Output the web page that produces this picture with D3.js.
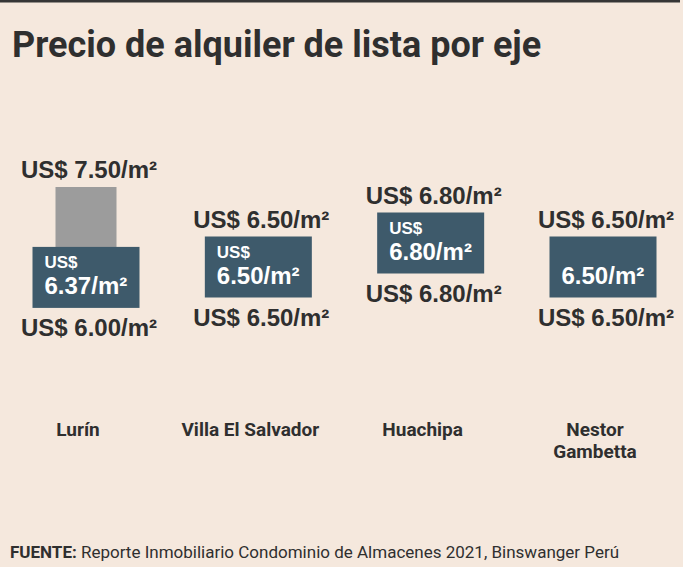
<!DOCTYPE html>
<html>
<head>
<meta charset="utf-8">
<script src="https://cdn.jsdelivr.net/npm/d3@7"></script>
<style>
  html, body { margin:0; padding:0; background:#f5e8dd; }
  svg { display:block; }
</style>
</head>
<body>
<svg id="chart"></svg>
<script>
const categories = ["Lurín", "Villa El Salvador", "Huachipa", "Nestor\nGambetta"];
const minValues = [6.00, 6.50, 6.80, 6.50];
const maxValues = [7.50, 6.50, 6.80, 6.50];
const avgValues = [6.37, 6.50, 6.80, 6.50];
const avgPrefix = ["US$", "US$", "US$", ""];

const title = "Precio de alquiler de lista por eje";
const sourceLabel = "FUENTE:";
const sourceText = " Reporte Inmobiliario Condominio de Almacenes 2021, Binswanger Perú";

const W = 683;
const H = 567;

const COLORS = {
  bg:"#f5e8dd",
  text:"#2f2f2f",
  box:"#3e5a6b",
  range:"#9c9c9c"
};

const fmt = v => v.toFixed(2) + "/m²";

const data = categories.map((c,i)=>({
  cat:c,
  min:minValues[i],
  max:maxValues[i],
  avg:avgValues[i],
  prefix:avgPrefix[i]
}));

const svg = d3.select("#chart")
  .attr("width",W)
  .attr("height",H)
  .attr("viewBox",`0 0 ${W} ${H}`);

svg.append("rect")
  .attr("width",W)
  .attr("height",H)
  .attr("fill",COLORS.bg);

// top rule
svg.append("rect")
  .attr("x",0)
  .attr("y",0)
  .attr("width",680)
  .attr("height",2.5)
  .attr("fill","#363636");

svg.append("text")
  .attr("x",12)
  .attr("y",57)
  .attr("font-family","Roboto, sans-serif")
  .attr("font-weight",700)
  .attr("font-size",36)
  .attr("fill",COLORS.text)
  .text(title);

const x = d3.scalePoint()
  .domain(categories)
  .range([86,603]);

const y = d3.scaleLinear()
  .domain([6,7.5])
  .range([307,187]);

const boxW = 107;
const boxH = 61;
const rangeW = 61;

const g = svg.append("g");

// min-max range bars
g.selectAll(".range")
  .data(data)
  .join("rect")
  .attr("class","range")
  .attr("x",d=>x(d.cat)-rangeW/2)
  .attr("width",rangeW)
  .attr("y",d=>y(d.max))
  .attr("height",d=>y(d.min)-y(d.max))
  .attr("fill",COLORS.range);

// average boxes
g.selectAll(".box")
  .data(data)
  .join("rect")
  .attr("class","box")
  .attr("x",d=>x(d.cat)-boxW/2)
  .attr("width",boxW)
  .attr("y",d=>y(d.avg)-boxH/2)
  .attr("height",boxH)
  .attr("fill",COLORS.box);

// average label: prefix line + value line
g.selectAll(".avg-prefix")
  .data(data)
  .join("text")
  .attr("class","avg-prefix")
  .attr("x",d=>x(d.cat)-boxW/2+12)
  .attr("y",d=>y(d.avg)-boxH/2+21.5)
  .attr("font-family","'Liberation Sans', Arial, sans-serif")
  .attr("font-weight",700)
  .attr("font-size",17)
  .attr("fill","#ffffff")
  .text(d=>d.prefix);

g.selectAll(".avg-value")
  .data(data)
  .join("text")
  .attr("class","avg-value")
  .attr("x",d=>x(d.cat)-boxW/2+12)
  .attr("y",d=>y(d.avg)-boxH/2+47.5)
  .attr("font-family","'Liberation Sans', Arial, sans-serif")
  .attr("font-weight",700)
  .attr("font-size",24)
  .attr("fill","#ffffff")
  .text(d=>fmt(d.avg));

// max labels
g.selectAll(".max-label")
  .data(data)
  .join("text")
  .attr("class","max-label")
  .attr("x",d=>x(d.cat)+3)
  .attr("y",d=>Math.min(y(d.max),y(d.avg)-boxH/2)-9)
  .attr("text-anchor","middle")
  .attr("font-family","'Liberation Sans', Arial, sans-serif")
  .attr("font-weight",700)
  .attr("font-size",24)
  .attr("fill",COLORS.text)
  .text(d=>"US$ " + fmt(d.max));

// min labels
g.selectAll(".min-label")
  .data(data)
  .join("text")
  .attr("class","min-label")
  .attr("x",d=>x(d.cat)+3)
  .attr("y",d=>Math.max(y(d.min),y(d.avg)+boxH/2)+28)
  .attr("text-anchor","middle")
  .attr("font-family","'Liberation Sans', Arial, sans-serif")
  .attr("font-weight",700)
  .attr("font-size",24)
  .attr("fill",COLORS.text)
  .text(d=>"US$ " + fmt(d.min));

// category labels
const catLabels = g.selectAll(".cat")
  .data(data)
  .join("text")
  .attr("class","cat")
  .attr("text-anchor","middle")
  .attr("font-family","Roboto, sans-serif")
  .attr("font-weight",700)
  .attr("font-size",19)
  .attr("fill",COLORS.text);

catLabels.selectAll("tspan")
  .data(d=>d.cat.split("\n").map(t=>({t,cx:x(d.cat)-8})))
  .join("tspan")
  .attr("x",d=>d.cx)
  .attr("y",(d,i)=>436+i*22)
  .text(d=>d.t);

const src = svg.append("text")
  .attr("x",10)
  .attr("y",558)
  .attr("font-family","Roboto, sans-serif")
  .attr("font-size",17)
  .attr("fill",COLORS.text);

src.append("tspan")
  .attr("font-weight",700)
  .text(sourceLabel);

src.append("tspan")
  .text(sourceText);
</script>
</body>
</html>
